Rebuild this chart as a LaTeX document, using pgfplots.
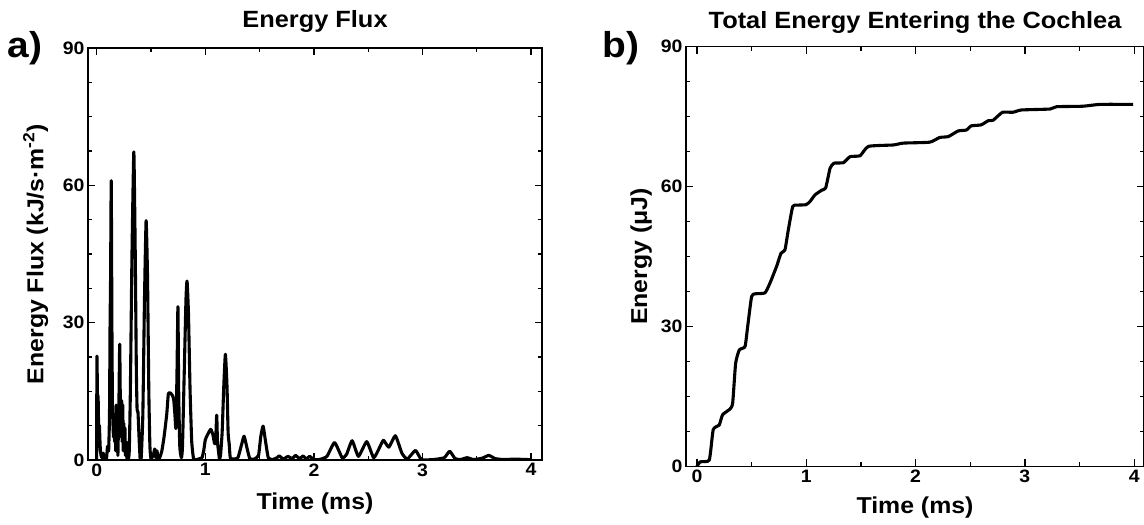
\documentclass[border=0pt]{standalone}
\usepackage{fontspec}
\setmainfont{Liberation Sans}[FakeStretch=1.08]
\usepackage{pgfplots}
\pgfplotsset{compat=1.18}
\pgfplotsset{mystyle/.style={
  scale only axis,
  axis line style={line width=1.5pt},
  every tick/.style={black, line width=1.3pt},
  major tick length=7pt, minor tick length=4pt,
  tick align=inside,
  xmin=-0.08, xmax=4.1, ymin=0, ymax=90,
  xtick={0,1,2,3,4}, ytick={0,30,60,90},
  minor x tick num=1, minor y tick num=3,
  tick label style={font=\fontsize{18}{18}\selectfont\bfseries},
  /pgf/number format/assume math mode=true,
  label style={font=\fontsize{23}{23}\selectfont\bfseries},
  title style={font=\fontsize{23.5}{23.5}\selectfont\bfseries},
}}
\begin{document}
\begin{tikzpicture}[x=1pt,y=1pt]
\path[use as bounding box] (0,0) rectangle (1144,525);
\begin{axis}[mystyle, at={(88pt,65pt)}, anchor=south west, width=454pt, height=412pt,
  xlabel={Time (ms)}, ylabel={Energy Flux (kJ/s·m\textsuperscript{-2})},
  xlabel style={at={(axis description cs:0.5,-0.121)}, anchor=base},
  ylabel style={at={(axis description cs:-0.115,0.5)}, anchor=center},
  title={Energy Flux}, title style={at={(axis description cs:0.5,1.036)}, anchor=base}]
\addplot[black, line width=3.1pt, line join=round, smooth, tension=0.3] coordinates {
(0,0) (0.002,22.7) (0.008,13) (0.013,14) (0.018,7) (0.025,7.5) (0.032,3) (0.04,1) (0.05,0.5)
(0.06,1.5) (0.07,0.3) (0.08,0.5) (0.09,0.2) (0.1,3) (0.11,2) (0.118,10) (0.123,29) (0.128,40)
(0.134,61) (0.14,30) (0.145,12) (0.15,8) (0.155,5) (0.16,10) (0.165,4) (0.17,9) (0.175,2)
(0.18,12) (0.185,3) (0.19,8) (0.195,1) (0.2,7) (0.205,13) (0.212,25.3) (0.218,12) (0.222,13)
(0.226,5) (0.23,13) (0.235,4) (0.24,12) (0.245,2) (0.25,8) (0.255,3) (0.26,7) (0.265,1) (0.27,4)
(0.28,0) (0.29,0) (0.3,2) (0.31,15) (0.325,45) (0.342,67.3) (0.355,45) (0.365,20) (0.372,11)
(0.38,10.5) (0.39,5) (0.4,0.3) (0.41,0.5) (0.425,10) (0.44,35) (0.455,52.3) (0.468,40) (0.48,15)
(0.49,3) (0.5,0.3) (0.52,1) (0.535,2.4) (0.545,0.5) (0.555,2) (0.565,0.3) (0.58,0.5) (0.6,2)
(0.62,5) (0.645,10) (0.66,14.5) (0.68,14.6) (0.7,14) (0.71,13) (0.72,10) (0.73,7) (0.74,20)
(0.748,33.5) (0.755,15) (0.765,3) (0.78,0.5) (0.79,3) (0.805,18) (0.822,35) (0.832,39.1)
(0.845,32) (0.86,15) (0.875,4) (0.89,0.5) (0.9,0) (0.95,0.3) (0.97,0.5) (0.985,2) (1.0,4.4)
(1.02,5.5) (1.05,6.7) (1.07,5.5) (1.085,3.6) (1.095,4) (1.105,9.8) (1.112,4) (1.12,2.2)
(1.13,0.3) (1.14,1) (1.155,6) (1.17,16) (1.185,23.1) (1.2,16) (1.21,6) (1.22,3.5) (1.23,0.5)
(1.26,0.2) (1.3,0.5) (1.33,3) (1.357,5.2) (1.385,2.5) (1.41,0.3) (1.45,0.2) (1.49,1) (1.51,5)
(1.532,7.4) (1.555,4) (1.58,0.5) (1.62,0.1) (1.66,0.5) (1.68,0.9) (1.72,0.2) (1.76,0.8)
(1.8,0.3) (1.83,1.0) (1.87,0.3) (1.9,0.9) (1.93,0.2) (1.96,0.8) (2.0,0.1) (2.05,0.1) (2.12,0.8)
(2.19,3.8) (2.26,0.5) (2.3,1.2) (2.352,4.2) (2.41,0.8) (2.486,4.0) (2.55,0.5) (2.6,2.5)
(2.64,4.3) (2.69,2.8) (2.75,5.3) (2.81,1.5) (2.86,0.2) (2.935,2.1) (2.99,0.1) (3.1,0.1)
(3.2,0.5) (3.25,1.9) (3.3,0.3) (3.35,0.1) (3.41,0.5) (3.47,0.1) (3.55,0.4) (3.61,1.0)
(3.67,0.3) (3.75,0.1) (3.85,0.2) (3.95,0.1) (4.0,0.1)
};
\end{axis}
\begin{axis}[mystyle, at={(686pt,58.5pt)}, anchor=south west, width=458pt, height=420pt,
  xmin=-0.1, xmax=4.09,
  xlabel={Time (ms)}, ylabel={Energy (μJ)},
  xlabel style={at={(axis description cs:0.5,-0.113)}, anchor=base},
  ylabel style={at={(axis description cs:-0.098,0.5)}, anchor=center},
  title={Total Energy Entering the Cochlea}, title style={at={(axis description cs:0.5,1.028)}, anchor=base}]
\addplot[black, line width=3.1pt, line join=round, smooth, tension=0.3] coordinates {
(0,0) (0.03,1) (0.113,1.4) (0.149,7.9) (0.204,8.9) (0.235,11.1) (0.302,12.3) (0.327,13.6)
(0.354,22.1) (0.388,25) (0.44,25.7) (0.464,30) (0.5,36.4) (0.531,37) (0.622,37.2) (0.668,39.3)
(0.729,42.9) (0.769,45.7) (0.805,46.4) (0.836,50.7) (0.876,55.7) (0.912,56) (0.998,56.1)
(1.035,56.8) (1.08,58.2) (1.141,59.2) (1.178,59.7) (1.218,63.9) (1.254,65) (1.34,65.1)
(1.401,66.4) (1.493,66.6) (1.569,68.6) (1.797,68.9) (1.889,69.3) (2.13,69.5) (2.22,70.5)
(2.3,70.7) (2.39,71.9) (2.465,72.1) (2.51,73) (2.6,73.2) (2.665,74.1) (2.71,74.2) (2.795,75.9)
(2.89,75.9) (2.97,76.4) (3.23,76.6) (3.29,77.1) (3.53,77.2) (3.69,77.6) (3.99,77.6)
};
\end{axis}
\node[font=\fontsize{36}{36}\selectfont\bfseries] at (25,477) {a)};
\node[font=\fontsize{36}{36}\selectfont\bfseries] at (621,477) {b)};
\end{tikzpicture}
\end{document}
